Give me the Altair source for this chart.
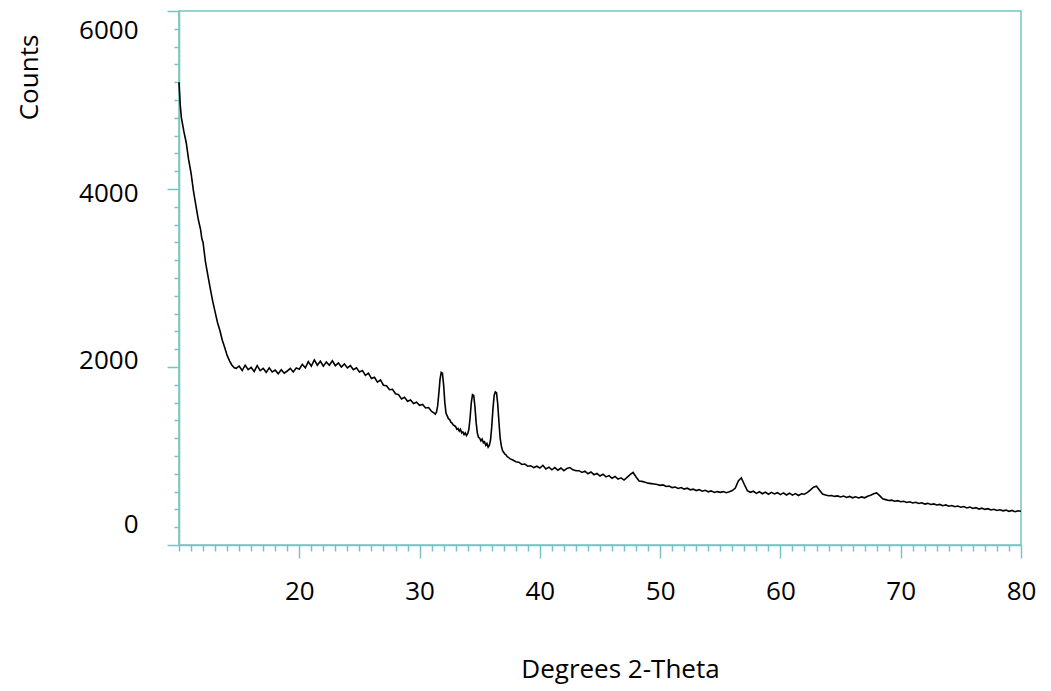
import altair as alt
import pandas as pd

# ---- data (degrees 2-theta, counts) ----
theta_rise = [10.0, 10.1, 10.2, 10.4, 10.6, 10.8, 11.0, 11.2, 11.4, 11.6, 11.8, 11.9, 12.0,
              12.2, 12.4, 12.6, 12.8, 13.0, 13.2, 13.4, 13.6, 13.8, 14.0, 14.2, 14.4, 14.6]
counts_rise = [5200, 4950, 4800, 4650, 4520, 4330, 4180, 3980, 3820, 3660, 3540, 3440, 3400,
               3180, 3030, 2880, 2740, 2620, 2500, 2410, 2300, 2220, 2130, 2070, 2020, 1990]

theta_hump = [14.75, 15.0, 15.25, 15.5, 15.75, 16.0, 16.25, 16.5, 16.75, 17.0, 17.25, 17.5,
              17.75, 18.0, 18.25, 18.5, 18.75, 19.0, 19.25, 19.5, 19.75, 20.0, 20.25, 20.5,
              20.75, 21.0, 21.25, 21.5, 21.75, 22.0, 22.25, 22.5, 22.75, 23.0, 23.25, 23.5,
              23.75, 24.0, 24.25, 24.5, 24.75, 25.0, 25.25, 25.5, 25.75, 26.0, 26.25, 26.5,
              26.75, 27.0, 27.25, 27.5, 27.75, 28.0, 28.25, 28.5, 28.75, 29.0, 29.25, 29.5,
              29.75, 30.0, 30.25, 30.5, 30.75, 31.0, 31.25]
counts_hump = [1985, 2010, 1960, 2020, 1970, 1995, 1950, 2015, 1960, 1985,
               1940, 1990, 1945, 1965, 1925, 1970, 1930, 1955, 1985, 1945,
               1990, 1975, 2030, 1990, 2060, 2010, 2080, 2020, 2065, 2010,
               2055, 2020, 2070, 2015, 2045, 2000, 2035, 1990, 2015, 1970,
               1990, 1945, 1960, 1905, 1930, 1870, 1885, 1830, 1855, 1795,
               1790, 1745, 1750, 1700, 1690, 1640, 1660, 1615, 1630, 1590,
               1605, 1570, 1580, 1540, 1545, 1500, 1480]

theta_peaks = [31.3, 31.4, 31.5, 31.6, 31.7, 31.8, 31.9, 32.0, 32.1, 32.2,
               32.3, 32.4, 32.5, 32.6, 32.7, 32.8, 32.9, 33.0, 33.1, 33.2,
               33.3, 33.4, 33.5, 33.6, 33.7, 33.8, 33.9, 34.0, 34.1, 34.2,
               34.3, 34.4, 34.5, 34.6, 34.7, 34.8, 34.9, 35.0, 35.1, 35.2,
               35.3, 35.4, 35.5, 35.6, 35.7, 35.8, 35.9, 36.0, 36.1, 36.2,
               36.3, 36.4, 36.5, 36.6, 36.7, 36.8, 36.9, 37.0, 37.1, 37.2,
               37.3, 37.4, 37.5]
counts_peaks = [1470, 1490, 1560, 1700, 1860, 1940, 1930, 1800, 1600, 1480,
                1450, 1420, 1410, 1380, 1370, 1350, 1340, 1330, 1300, 1310,
                1280, 1300, 1260, 1270, 1240, 1260, 1230, 1250, 1300, 1430,
                1600, 1690, 1680, 1560, 1380, 1260, 1210, 1200, 1170, 1190,
                1150, 1160, 1120, 1140, 1100, 1120, 1180, 1330, 1530, 1680,
                1720, 1710, 1580, 1380, 1200, 1110, 1060, 1040, 1020, 1010,
                990, 985, 970]

theta_tail = [37.75, 38.0, 38.25, 38.5, 38.75, 39.0, 39.25, 39.5, 39.75, 40.0,
              40.25, 40.5, 40.75, 41.0, 41.25, 41.5, 41.75, 42.0, 42.25, 42.5,
              42.75, 43.0, 43.25, 43.5, 43.75, 44.0, 44.25, 44.5, 44.75, 45.0,
              45.25, 45.5, 45.75, 46.0, 46.25, 46.5, 46.75, 47.0, 47.25, 47.5,
              47.75, 48.0, 48.25, 48.5, 48.75, 49.0, 49.25, 49.5, 49.75, 50.0,
              50.25, 50.5, 50.75, 51.0, 51.25, 51.5, 51.75, 52.0, 52.25, 52.5,
              52.75, 53.0, 53.25, 53.5, 53.75, 54.0, 54.25, 54.5, 54.75, 55.0,
              55.25, 55.5, 55.75, 56.0, 56.25, 56.5, 56.75, 57.0, 57.25, 57.5,
              57.75, 58.0, 58.25, 58.5, 58.75, 59.0, 59.25, 59.5, 59.75, 60.0,
              60.25, 60.5, 60.75, 61.0, 61.25, 61.5, 61.75, 62.0, 62.25, 62.5,
              62.75, 63.0, 63.25, 63.5, 63.75, 64.0, 64.25, 64.5, 64.75, 65.0,
              65.25, 65.5, 65.75, 66.0, 66.25, 66.5, 66.75, 67.0, 67.25, 67.5,
              67.75, 68.0, 68.25, 68.5, 68.75, 69.0, 69.25, 69.5, 69.75, 70.0,
              70.25, 70.5, 70.75, 71.0, 71.25, 71.5, 71.75, 72.0, 72.25, 72.5,
              72.75, 73.0, 73.25, 73.5, 73.75, 74.0, 74.25, 74.5, 74.75, 75.0,
              75.25, 75.5, 75.75, 76.0, 76.25, 76.5, 76.75, 77.0, 77.25, 77.5,
              77.75, 78.0, 78.25, 78.5, 78.75, 79.0, 79.25, 79.5, 79.75, 80.0]
counts_tail = [955, 935, 930, 905, 910, 885, 890, 870, 885, 865,
               895, 855, 875, 845, 870, 840, 865, 835, 860, 870,
               845, 835, 835, 815, 830, 800, 820, 790, 805, 775,
               795, 765, 780, 750, 770, 740, 755, 730, 760, 790,
               815, 765, 720, 715, 705, 695, 690, 685, 680, 670,
               675, 658, 662, 645, 652, 636, 646, 628, 638, 620,
               628, 612, 622, 604, 614, 598, 608, 590, 600, 592,
               600, 588, 598, 612, 640, 720, 755, 680, 610, 592,
               604, 580, 598, 576, 594, 570, 592, 574, 588, 566,
               586, 562, 582, 560, 578, 556, 576, 570, 592, 620,
               650, 660, 615, 572, 562, 554, 556, 546, 552, 540,
               550, 534, 546, 530, 542, 528, 540, 530, 548, 560,
               575, 585, 555, 518, 510, 500, 504, 492, 498, 486,
               492, 478, 486, 472, 480, 466, 474, 460, 468, 456,
               462, 450, 456, 442, 450, 436, 444, 430, 438, 424,
               432, 416, 426, 410, 420, 404, 414, 400, 408, 394,
               402, 388, 396, 384, 392, 378, 388, 374, 384, 380]

x_tick_values = list(range(10, 81))        # every degree, labelled at 20..80
y_tick_values = list(range(0, 6001, 200))  # every 200 counts, labelled at 0..6000

two_theta = theta_rise + theta_hump + theta_peaks + theta_tail
counts = counts_rise + counts_hump + counts_peaks + counts_tail
assert len(two_theta) == len(counts)
df = pd.DataFrame({"two_theta": two_theta, "counts": counts})

TEAL = "#78C3C3"
FONT = "Open Sans"

x_axis = alt.Axis(
    values=x_tick_values,
    labelExpr="datum.value % 10 == 0 && datum.value > 10 ? datum.label : ''",
    format="d",
    tickSize={"condition": {"test": "datum.value % 10 == 0 && datum.value > 10", "value": 13}, "value": 6},
    tickColor=TEAL, tickWidth=1.5,
    domainColor=TEAL, domainWidth=1.5,
    grid=False,
    labelFont=FONT, labelFontSize=26, labelColor="black",
    labelPadding=20, labelOverlap=False, labelFlush=False,
    title="Degrees 2-Theta", titleFont=FONT, titleFontSize=26, titleFontWeight="normal",
    titleColor="black", titleX=441, titleY=124, titleAlign="center", titleBaseline="middle",
)

y_axis = alt.Axis(
    values=y_tick_values,
    labelExpr="datum.value % 2000 == 0 ? datum.label : ''",
    format="d",
    tickSize={"condition": {"test": "datum.value % 2000 == 0", "value": 12}, "value": 5},
    labelOffset={"condition": [
        {"test": "datum.value == 6000", "value": 19},
        {"test": "datum.value == 4000", "value": 4},
        {"test": "datum.value == 2000", "value": -7},
    ], "value": -21},
    tickColor=TEAL, tickWidth=1.5,
    domainColor=TEAL, domainWidth=1.5,
    grid=False,
    labelFont=FONT, labelFontSize=26, labelColor="black",
    labelPadding=29, labelOverlap=False, labelFlush=False,
    title="Counts", titleFont=FONT, titleFontSize=26, titleFontWeight="normal",
    titleColor="black", titleAngle=-90, titleX=-150, titleY=66,
    titleAlign="center", titleBaseline="middle",
)

chart = (
    alt.Chart(df)
    .mark_line(color="black", strokeWidth=1.6)
    .encode(
        x=alt.X("two_theta:Q", scale=alt.Scale(domain=[10, 80], nice=False, zero=False), axis=x_axis),
        y=alt.Y("counts:Q", scale=alt.Scale(domain=[0, 6000], nice=False), axis=y_axis),
    )
    .properties(
        width=842, height=534,
        autosize=alt.AutoSizeParams(type="none"),
        padding={"left": 171, "top": 3, "right": 20, "bottom": 145},
        background="white",
    )
    .configure_view(stroke=TEAL, strokeWidth=1.5)
)

chart.save("out.html", embed_options={"renderer": "svg", "actions": False})
